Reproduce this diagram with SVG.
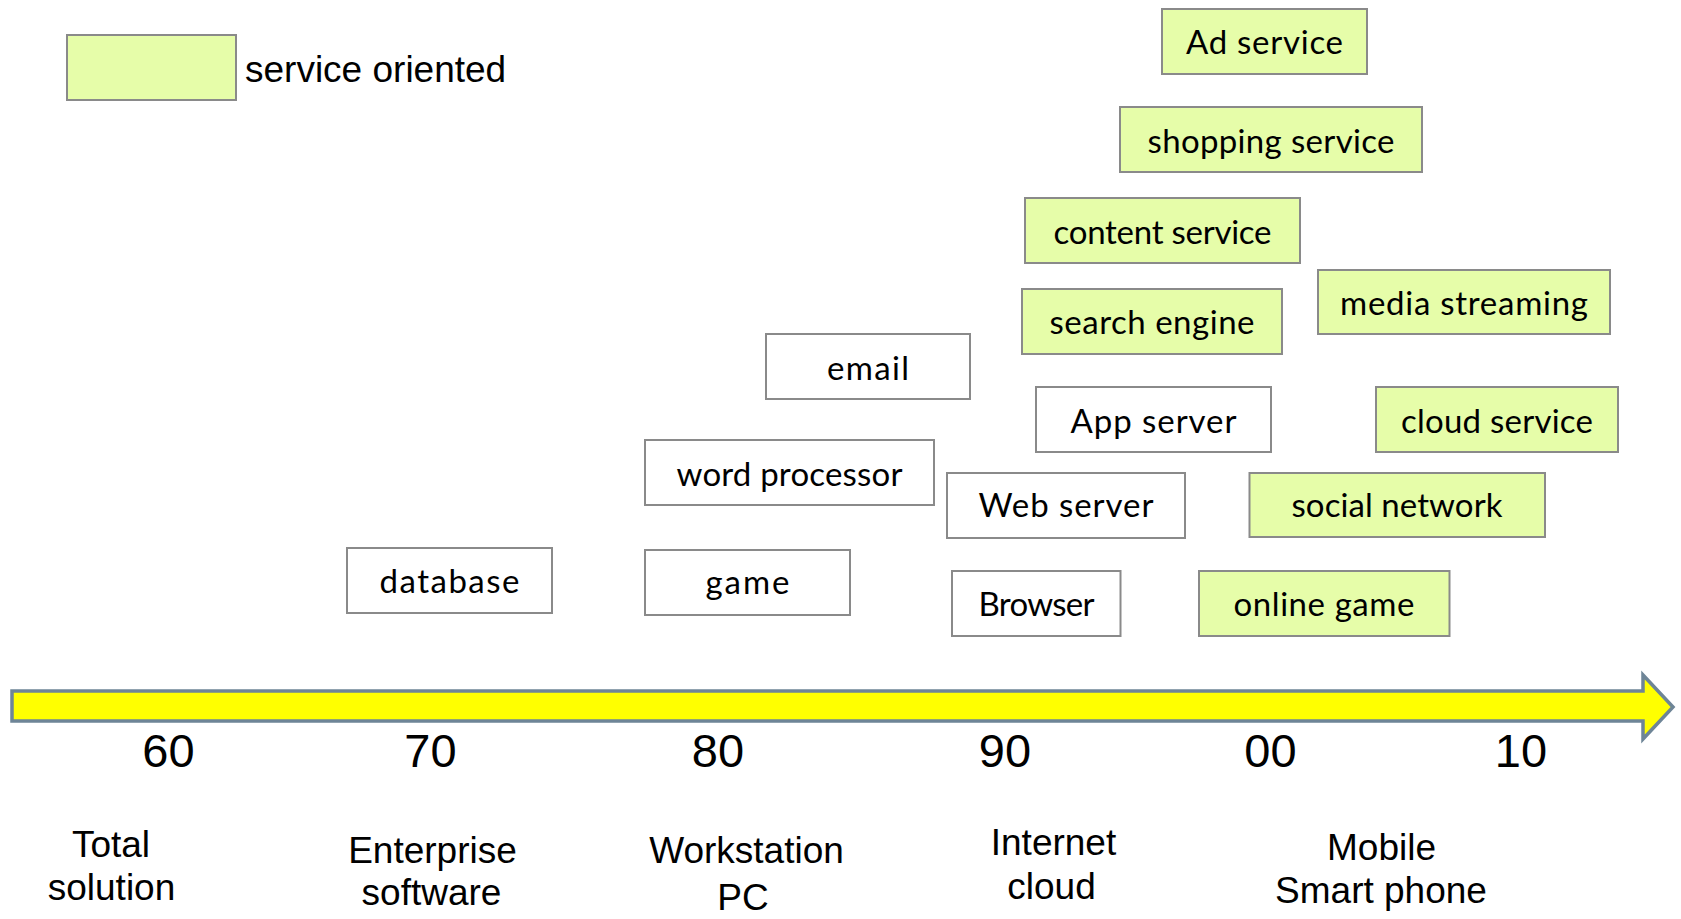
<svg xmlns="http://www.w3.org/2000/svg" width="1681" height="919" viewBox="0 0 1681 919">
<style>
.box{stroke:#8a8a8a;stroke-width:2}
.svc{fill:#e6fda9}
.plain{fill:#ffffff}
.bt{font-family:Lato,"Liberation Sans",sans-serif;font-size:33px;fill:#000;text-anchor:middle}
.lab{font-family:"Liberation Sans",Arial,sans-serif;font-size:37px;fill:#000;text-anchor:middle}
.num{font-family:"Liberation Sans",Arial,sans-serif;font-size:47px;fill:#000;text-anchor:middle}
</style>
<rect width="1681" height="919" fill="#ffffff"/>
<g id="legend">
<rect class="box svc" x="67" y="35" width="169" height="65"/>
<text x="245" y="82" font-family="Liberation Sans, Arial, sans-serif" font-size="37" fill="#000">service oriented</text>
</g>
<g id="connectors">
<polygon points="12,691 1643,691 1643,675 1673,707 1643,739 1643,721 12,721" fill="#ffff00" stroke="#6e8597" stroke-width="3.5" stroke-linejoin="miter"/>
</g>
<g id="ad-service"><rect class="box svc" x="1162" y="9" width="205" height="65"/><text class="bt" x="1264.5" y="54" textLength="157">Ad service</text></g>
<g id="shopping-service"><rect class="box svc" x="1120" y="107" width="302" height="65"/><text class="bt" x="1271" y="153" textLength="247">shopping service</text></g>
<g id="content-service"><rect class="box svc" x="1025" y="198" width="275" height="65"/><text class="bt" x="1162.5" y="244" textLength="218">content service</text></g>
<g id="search-engine"><rect class="box svc" x="1022" y="289" width="260" height="65"/><text class="bt" x="1152" y="334" textLength="205">search engine</text></g>
<g id="media-streaming"><rect class="box svc" x="1318" y="270" width="292" height="64"/><text class="bt" x="1464" y="315" textLength="248">media streaming</text></g>
<g id="email"><rect class="box plain" x="766" y="334" width="204" height="65"/><text class="bt" x="868" y="380" textLength="82">email</text></g>
<g id="app-server"><rect class="box plain" x="1036" y="387" width="235" height="65"/><text class="bt" x="1153.5" y="433" textLength="166">App server</text></g>
<g id="cloud-service"><rect class="box svc" x="1376" y="387" width="242" height="65"/><text class="bt" x="1497" y="433" textLength="192">cloud service</text></g>
<g id="word-processor"><rect class="box plain" x="645" y="440" width="289" height="65"/><text class="bt" x="789.5" y="486" textLength="226">word processor</text></g>
<g id="web-server"><rect class="box plain" x="947" y="473" width="238" height="65"/><text class="bt" x="1066" y="517" textLength="175">Web server</text></g>
<g id="social-network"><rect class="box svc" x="1249.5" y="473" width="295.5" height="64"/><text class="bt" x="1397" y="517" textLength="211">social network</text></g>
<g id="database"><rect class="box plain" x="347" y="548" width="205" height="65"/><text class="bt" x="449.5" y="593" textLength="140">database</text></g>
<g id="game"><rect class="box plain" x="645" y="550" width="205" height="65"/><text class="bt" x="747.5" y="594" textLength="84">game</text></g>
<g id="browser"><rect class="box plain" x="952" y="571" width="168.5" height="65"/><text class="bt" x="1036.5" y="616" textLength="116">Browser</text></g>
<g id="online-game"><rect class="box svc" x="1199" y="571" width="250.5" height="65"/><text class="bt" x="1324" y="616" textLength="181">online game</text></g>
<g id="axis-numbers">
<text class="num" x="168.5" y="767">60</text>
<text class="num" x="430.5" y="767">70</text>
<text class="num" x="718" y="767">80</text>
<text class="num" x="1005" y="767">90</text>
<text class="num" x="1270.5" y="767">00</text>
<text class="num" x="1521" y="767">10</text>
</g>
<g id="era-labels">
<text class="lab" x="111" y="857">Total</text>
<text class="lab" x="111.5" y="900">solution</text>
<text class="lab" x="432.5" y="863">Enterprise</text>
<text class="lab" x="431.5" y="905">software</text>
<text class="lab" x="746.5" y="863">Workstation</text>
<text class="lab" x="743" y="910">PC</text>
<text class="lab" x="1053.5" y="855">Internet</text>
<text class="lab" x="1051.5" y="899">cloud</text>
<text class="lab" x="1381.5" y="860">Mobile</text>
<text class="lab" x="1381" y="903">Smart phone</text>
</g>
</svg>
